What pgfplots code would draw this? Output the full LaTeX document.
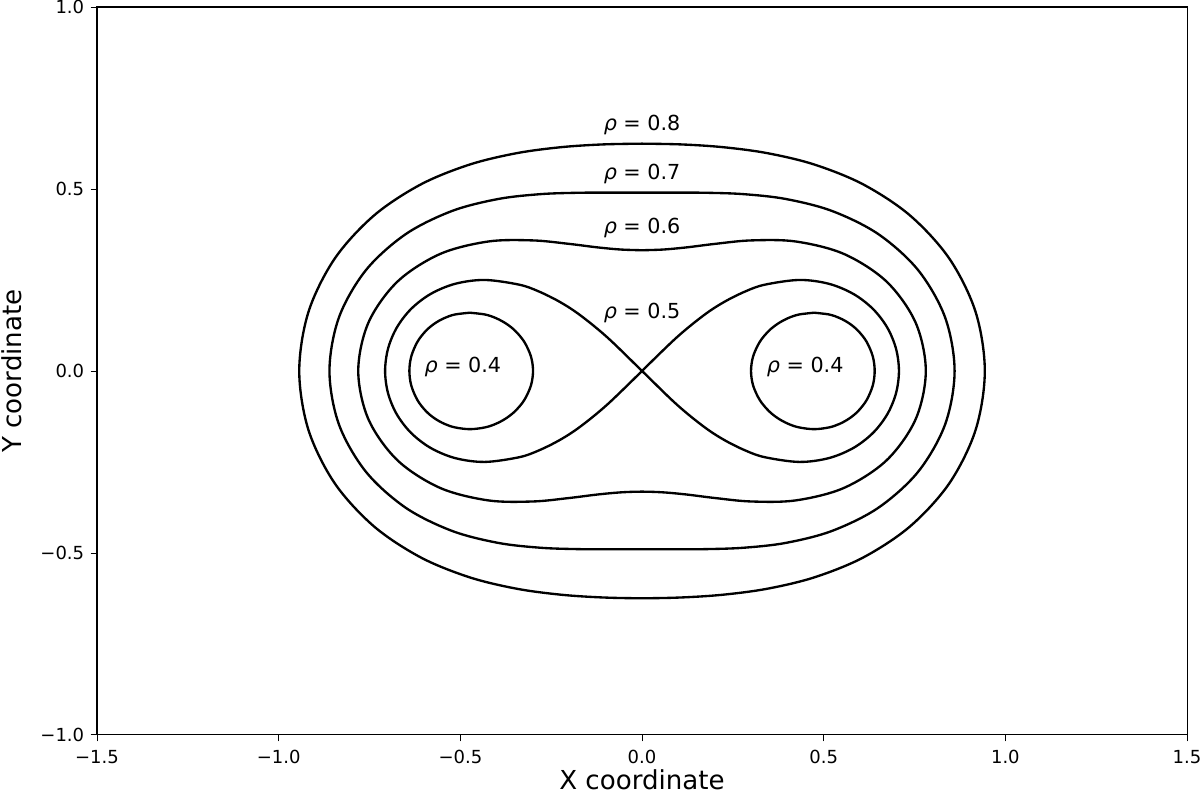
\documentclass[border=0pt]{standalone}
\usepackage{fontspec}
\setmainfont{DejaVu Sans}
\usepackage{pgfplots}
\pgfplotsset{compat=1.18}
\tikzset{curve/.style={black, solid, line width=1.3pt, smooth, tension=0.55, mark=none}}
\begin{document}
\begin{tikzpicture}
\begin{axis}[
  scale only axis,
  width=605.6pt, height=404.4pt,
  xmin=-1.5, xmax=1.5, ymin=-1, ymax=1,
  xtick={-1.5,-1,-0.5,0,0.5,1,1.5},
  xticklabels={−1.5,−1.0,−0.5,0.0,0.5,1.0,1.5},
  ytick={-1,-0.5,0,0.5,1},
  yticklabels={−1.0,−0.5,0.0,0.5,1.0},
  tick align=outside,
  major tick length=3.6pt,
  tick style={black, line width=0.45pt},
  xtick pos=bottom, ytick pos=left,
  axis line style={line width=0.6pt},
  ticklabel style={font=\fontsize{10}{12}\selectfont},
  xticklabel style={yshift=-1.5pt},
  xlabel={X coordinate}, ylabel={Y coordinate},
  xlabel style={font=\fontsize{14.5}{17}\selectfont, at={(axis description cs:0.5,-0.062)}, anchor=center},
  ylabel style={font=\fontsize{14.5}{17}\selectfont, at={(axis description cs:-0.078,0.5)}, anchor=center},
  clip=false,
]
% rho = 0.8
\addplot[curve] coordinates {
(0,0.62450)(0.10974,0.62234)(0.22375,0.61475)(0.34543,0.59830)(0.47555,0.56673)(0.61003,0.51188)(0.73855,0.42640)(0.84625,0.30801)(0.91814,0.16189)(0.94340,0)
(0.91814,-0.16189)(0.84625,-0.30801)(0.73855,-0.42640)(0.61003,-0.51188)(0.47555,-0.56673)(0.34543,-0.59830)(0.22375,-0.61475)(0.10974,-0.62234)(0,-0.62450)
(-0.10974,-0.62234)(-0.22375,-0.61475)(-0.34543,-0.59830)(-0.47555,-0.56673)(-0.61003,-0.51188)(-0.73855,-0.42640)(-0.84625,-0.30801)(-0.91814,-0.16189)(-0.94340,0)
(-0.91814,0.16189)(-0.84625,0.30801)(-0.73855,0.42640)(-0.61003,0.51188)(-0.47555,0.56673)(-0.34543,0.59830)(-0.22375,0.61475)(-0.10974,0.62234)(0,0.62450)
};
% rho = 0.7
\addplot[curve] coordinates {
(0,0.48990)(0.08640,0.48999)(0.17818,0.48953)(0.28044,0.48573)(0.39637,0.47237)(0.52353,0.43930)(0.65072,0.37569)(0.76017,0.27668)(0.83413,0.14708)(0.86023,0)
(0.83413,-0.14708)(0.76017,-0.27668)(0.65072,-0.37569)(0.52353,-0.43930)(0.39637,-0.47237)(0.28044,-0.48573)(0.17818,-0.48953)(0.08640,-0.48999)(0,-0.48990)
(-0.08640,-0.48999)(-0.17818,-0.48953)(-0.28044,-0.48573)(-0.39637,-0.47237)(-0.52353,-0.43930)(-0.65072,-0.37569)(-0.76017,-0.27668)(-0.83413,-0.14708)(-0.86023,0)
(-0.83413,0.14708)(-0.76017,0.27668)(-0.65072,0.37569)(-0.52353,0.43930)(-0.39637,0.47237)(-0.28044,0.48573)(-0.17818,0.48953)(-0.08640,0.48999)(0,0.48990)
};
% rho = 0.6
\addplot[curve] coordinates {
(0,0.33166)(0.05883,0.33364)(0.12362,0.33963)(0.20163,0.34924)(0.30097,0.35868)(0.42380,0.35561)(0.55630,0.32118)(0.67347,0.24512)(0.75299,0.13277)(0.78102,0)
(0.75299,-0.13277)(0.67347,-0.24512)(0.55630,-0.32118)(0.42380,-0.35561)(0.30097,-0.35868)(0.20163,-0.34924)(0.12362,-0.33963)(0.05883,-0.33364)(0,-0.33166)
(-0.05883,-0.33364)(-0.12362,-0.33963)(-0.20163,-0.34924)(-0.30097,-0.35868)(-0.42380,-0.35561)(-0.55630,-0.32118)(-0.67347,-0.24512)(-0.75299,-0.13277)(-0.78102,0)
(-0.75299,0.13277)(-0.67347,0.24512)(-0.55630,0.32118)(-0.42380,0.35561)(-0.30097,0.35868)(-0.20163,0.34924)(-0.12362,0.33963)(-0.05883,0.33364)(0,0.33166)
};
% rho = 0.5 (lemniscate)
\addplot[curve] coordinates {
(0,0)(0.09503,0.09177)(0.16989,0.15297)(0.22572,0.18940)(0.28540,0.21900)(0.33874,0.23719)(0.43301,0.25)(0.51381,0.23959)(0.58156,0.21167)(0.63562,0.17031)(0.67504,0.11903)(0.69905,0.06116)(0.70711,0)
(0.69905,-0.06116)(0.67504,-0.11903)(0.63562,-0.17031)(0.58156,-0.21167)(0.51381,-0.23959)(0.43301,-0.25)(0.33874,-0.23719)(0.28540,-0.21900)(0.22572,-0.18940)(0.16989,-0.15297)(0.09503,-0.09177)(0,0)
(-0.09503,0.09177)(-0.16989,0.15297)(-0.22572,0.18940)(-0.28540,0.21900)(-0.33874,0.23719)(-0.43301,0.25)(-0.51381,0.23959)(-0.58156,0.21167)(-0.63562,0.17031)(-0.67504,0.11903)(-0.69905,0.06116)(-0.70711,0)
(-0.69905,-0.06116)(-0.67504,-0.11903)(-0.63562,-0.17031)(-0.58156,-0.21167)(-0.51381,-0.23959)(-0.43301,-0.25)(-0.33874,-0.23719)(-0.28540,-0.21900)(-0.22572,-0.18940)(-0.16989,-0.15297)(-0.09503,-0.09177)(0,0)
};
% rho = 0.4 right oval
\addplot[curve] coordinates {
(0.47371,0.16)(0.51542,0.155)(0.54462,0.145)(0.57129,0.13)(0.59506,0.11)(0.61819,0.08)(0.63508,0.04)(0.64031,0)
(0.63508,-0.04)(0.61819,-0.08)(0.59506,-0.11)(0.57129,-0.13)(0.54462,-0.145)(0.51542,-0.155)(0.47371,-0.16)
(0.43161,-0.155)(0.40167,-0.145)(0.37393,-0.13)(0.34887,-0.11)(0.32410,-0.08)(0.30575,-0.04)(0.3,0)
(0.30575,0.04)(0.32410,0.08)(0.34887,0.11)(0.37393,0.13)(0.40167,0.145)(0.43161,0.155)(0.47371,0.16)
};
% rho = 0.4 left oval
\addplot[curve] coordinates {
(-0.47371,0.16)(-0.51542,0.155)(-0.54462,0.145)(-0.57129,0.13)(-0.59506,0.11)(-0.61819,0.08)(-0.63508,0.04)(-0.64031,0)
(-0.63508,-0.04)(-0.61819,-0.08)(-0.59506,-0.11)(-0.57129,-0.13)(-0.54462,-0.145)(-0.51542,-0.155)(-0.47371,-0.16)
(-0.43161,-0.155)(-0.40167,-0.145)(-0.37393,-0.13)(-0.34887,-0.11)(-0.32410,-0.08)(-0.30575,-0.04)(-0.3,0)
(-0.30575,0.04)(-0.32410,0.08)(-0.34887,0.11)(-0.37393,0.13)(-0.40167,0.145)(-0.43161,0.155)(-0.47371,0.16)
};
\begin{scope}[every node/.style={font=\fontsize{11.5}{14}\selectfont, inner sep=0pt}]
\node at (axis cs:0,0.676) {{\itshape ρ} = 0.8};
\node at (axis cs:0,0.541) {{\itshape ρ} = 0.7};
\node at (axis cs:0,0.393) {{\itshape ρ} = 0.6};
\node at (axis cs:0,0.159) {{\itshape ρ} = 0.5};
\node at (axis cs:-0.493,0.012) {{\itshape ρ} = 0.4};
\node at (axis cs:0.449,0.012) {{\itshape ρ} = 0.4};
\end{scope}
\coordinate (bl) at (rel axis cs:0,0);
\coordinate (tr) at (rel axis cs:1,1);
\end{axis}
\pgfresetboundingbox
\path[use as bounding box] ([xshift=-53.9pt,yshift=-34.4pt]bl) rectangle ([xshift=7.2pt,yshift=3.9pt]tr);
\end{tikzpicture}
\end{document}
